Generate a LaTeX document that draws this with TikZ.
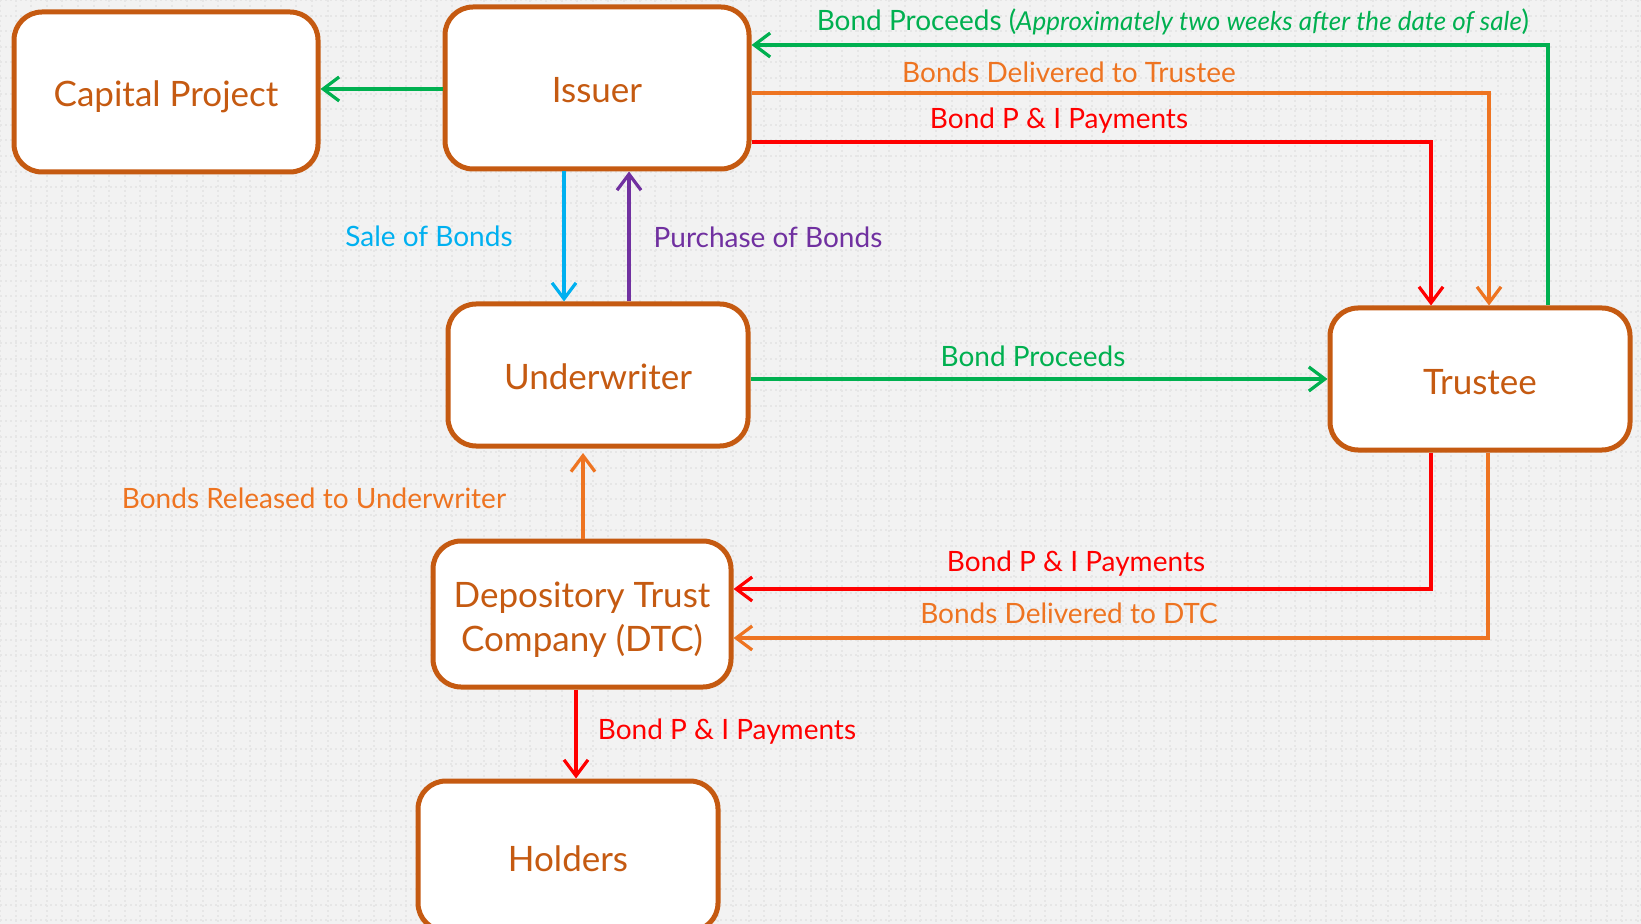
\documentclass[tikz,border=0pt]{standalone}
\usepackage{fontspec}
\setmainfont{Lato}
\usetikzlibrary{arrows.meta}
\definecolor{boxline}{HTML}{C55A11}
\definecolor{procgreen}{HTML}{00B050}
\definecolor{bondorange}{HTML}{EE7421}
\definecolor{payred}{HTML}{FF0000}
\definecolor{saleblue}{HTML}{00B0F0}
\definecolor{buypurple}{HTML}{7030A0}
\definecolor{bggray}{HTML}{F2F2F2}
\definecolor{griddot}{HTML}{E6E6E6}

\begin{document}
\begin{tikzpicture}[x=0.5pt,y=0.5pt,yscale=-1,
  party/.style={draw=boxline, line width=2.5pt, fill=white, rounded corners=14pt,
    text=boxline, font=\fontsize{17.5}{22}\selectfont, align=center, inner sep=0pt,
    text height=15pt, text depth=0pt},
  flow/.style={line width=1.6pt, -{Straight Barb[length=8pt,width=12pt]}},
  lbl/.style={font=\fontsize{14}{17}\selectfont, inner sep=0pt}]
\useasboundingbox (0,0) rectangle (1641,924);
\fill[bggray] (0,0) rectangle (1641,924);
\clip (0,0) rectangle (1641,924);
\draw[griddot, line width=1pt, dash pattern=on 1pt off 1.5pt] (0,0) grid[step=15.6] (1641,924);

% parties
\node[party, minimum width=152pt, minimum height=80pt] (capital) at (166,92) {Capital Project};
\node[party, minimum width=152pt, minimum height=81pt] (issuer) at (597,88) {Issuer};
\node[party, minimum width=150pt, minimum height=71pt] (writer) at (598,375) {Underwriter};
\node[party, minimum width=150pt, minimum height=71pt] (trustee) at (1480,379) {Trustee};
\node[party, minimum width=149pt, minimum height=73pt, text height=37pt] (dtc) at (582,614) {Depository Trust\\Company (DTC)};
\node[party, minimum width=150pt, minimum height=75pt] (holders) at (568,856) {Holders};

% bend points
\coordinate (gbend) at (1548,45);
\coordinate (obend) at (1489,93);
\coordinate (rbend) at (1431,142);
\coordinate (salex) at (564,0);
\coordinate (buyx) at (629,0);
\coordinate (relend) at (583,453);
\coordinate (rbendlow) at (1431,589);
\coordinate (obendlow) at (1488,638);
\coordinate (holdx) at (576,0);

% connectors
\draw[flow, procgreen] (issuer.west |- 0,89) -- (capital.east |- 0,89);
\draw[flow, procgreen] (gbend |- trustee.north) -- (gbend) -- (gbend -| issuer.east);
\draw[flow, bondorange] (obend -| issuer.east) -- (obend) -- (obend |- trustee.north);
\draw[flow, payred] (rbend -| issuer.east) -- (rbend) -- (rbend |- trustee.north);
\draw[flow, saleblue] (salex |- issuer.south) -- (salex |- writer.north);
\draw[flow, buypurple] (buyx |- writer.north) -- (buyx |- issuer.south);
\draw[flow, procgreen] (trustee.west -| writer.east) -- (trustee.west);
\draw[flow, bondorange] (relend |- dtc.north) -- (relend);
\draw[flow, payred] (rbendlow |- trustee.south) -- (rbendlow) -- (rbendlow -| dtc.east);
\draw[flow, bondorange] (obendlow |- trustee.south) -- (obendlow) -- (obendlow -| dtc.east);
\draw[flow, payred] (holdx |- dtc.south) -- (holdx |- holders.north);

% labels
\node[lbl, text=procgreen] (proclate) at (1173,22) {Bond Proceeds ({\fontsize{13}{14}\selectfont\itshape Approximately two weeks after the date of sale\/})};
\node[lbl, text=bondorange] (deltrustee) at (1069,72) {Bonds Delivered to Trustee};
\node[lbl, text=payred] (paytop) at (1059,121) {Bond P \& I Payments};
\node[lbl, text=saleblue] (sale) at (429,236) {Sale of Bonds};
\node[lbl, text=buypurple] (purchase) at (768,237) {Purchase of Bonds};
\node[lbl, text=procgreen] (procmid) at (1033,356) {Bond Proceeds};
\node[lbl, text=bondorange] (released) at (314,498) {Bonds Released to Underwriter};
\node[lbl, text=payred] (paymid) at (1076,564) {Bond P \& I Payments};
\node[lbl, text=bondorange] (deldtc) at (1069,613) {Bonds Delivered to DTC};
\node[lbl, text=payred] (paylow) at (727,732) {Bond P \& I Payments};
\end{tikzpicture}
\end{document}
